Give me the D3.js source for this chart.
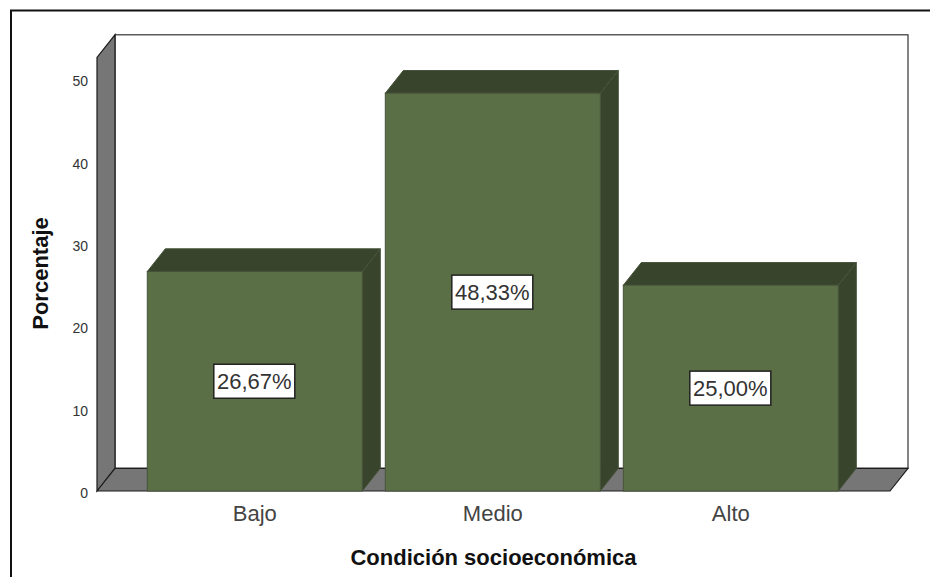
<!DOCTYPE html>
<html>
<head>
<meta charset="utf-8">
<script src="https://cdn.jsdelivr.net/npm/d3@7/dist/d3.min.js"></script>
<style>
  html, body { margin: 0; padding: 0; background: #fff; }
  svg { display: block; font-family: "Liberation Sans", Arial, sans-serif; }
</style>
</head>
<body>
<svg id="chart" width="930" height="577"></svg>
<script>
// Socioeconomic condition, percentage of respondents
const categories = ["Bajo", "Medio", "Alto"];
const percentages = [26.67, 48.33, 25.00];
const valueTicks = [0, 10, 20, 30, 40, 50];
const xTitle = "Condición socioeconómica";
const yTitle = "Porcentaje";

const svg = d3.select("#chart");

// Oblique offset of the 3D box
const depthX = 18, depthY = -22.7;

const x = d3.scaleBand().domain(categories).range([97, 888.6])
  .paddingInner(0.0966).paddingOuter(0.2113);
const y = d3.scaleLinear().domain([0, 50]).range([491, 79.5]);

const wallFill = "#767676", edge = "#1c1c1c";
const front = "#5b6f47", shade = "#39442c", barEdge = "#46533a";

const floorY = y(0), topY = 57.5;
const left = 97, right = 890;
const poly = pts => pts.map(p => p.join(",")).join(" ");

// Outer frame, open at the right and bottom
svg.append("path").attr("d", "M11,577V10.5H930")
  .attr("fill", "none").attr("stroke", "#111").attr("stroke-width", 2);

// Back wall
svg.append("rect")
  .attr("x", left + depthX).attr("y", topY + depthY)
  .attr("width", right - left).attr("height", floorY - topY)
  .attr("fill", "#fff").attr("stroke", "#333").attr("stroke-width", 1.2);

// Side wall
svg.append("polygon")
  .attr("points", poly([[left, floorY], [left, topY], [left + depthX, topY + depthY], [left + depthX, floorY + depthY]]))
  .attr("fill", wallFill).attr("stroke", edge).attr("stroke-width", 1.2);

// Floor
svg.append("polygon")
  .attr("points", poly([[left, floorY], [left + depthX, floorY + depthY], [right + depthX, floorY + depthY], [right, floorY]]))
  .attr("fill", wallFill).attr("stroke", edge).attr("stroke-width", 1.2);

// Bars: top, side and front faces
const bars = svg.append("g").selectAll("g")
  .data(categories.map((c, i) => ({ c, v: percentages[i] })))
  .join("g");

bars.append("polygon")
  .attr("points", d => {
    const a = x(d.c), b = a + x.bandwidth(), t = y(d.v);
    return poly([[a, t], [a + depthX, t + depthY], [b + depthX, t + depthY], [b, t]]);
  })
  .attr("fill", shade).attr("stroke", barEdge);

bars.append("polygon")
  .attr("points", d => {
    const b = x(d.c) + x.bandwidth(), t = y(d.v);
    return poly([[b, t], [b + depthX, t + depthY], [b + depthX, floorY + depthY], [b, floorY]]);
  })
  .attr("fill", shade).attr("stroke", barEdge);

bars.append("rect")
  .attr("x", d => x(d.c)).attr("y", d => y(d.v))
  .attr("width", x.bandwidth()).attr("height", d => floorY - y(d.v))
  .attr("fill", front).attr("stroke", barEdge);

// Value labels on white boxes at the middle of each bar
const fmt = v => v.toFixed(2).replace(".", ",") + "%";
const labels = bars.append("g")
  .attr("transform", d => `translate(${x(d.c) + x.bandwidth() / 2 - 0.5},${(y(d.v) + floorY) / 2})`);
labels.append("rect")
  .attr("x", -40.5).attr("y", -17).attr("width", 81).attr("height", 34)
  .attr("fill", "#fff").attr("stroke", "#222").attr("stroke-width", 1.5);
labels.append("text")
  .attr("text-anchor", "middle").attr("dy", "0.36em")
  .attr("font-size", 22).attr("fill", "#333")
  .text(d => fmt(d.v));

// Axes
const yAxis = svg.append("g").attr("transform", `translate(${left},2)`)
  .call(d3.axisLeft(y).tickValues(valueTicks).tickSize(0).tickPadding(9));
yAxis.select(".domain").remove();
yAxis.selectAll("text").attr("font-size", 14).attr("fill", "#333")
  .attr("font-family", "Liberation Sans");

const xAxis = svg.append("g").attr("transform", `translate(0,${floorY})`)
  .call(d3.axisBottom(x).tickSize(0).tickPadding(14.4));
xAxis.select(".domain").remove();
xAxis.selectAll("text").attr("font-size", 22).attr("fill", "#444")
  .attr("font-family", "Liberation Sans");

// Axis titles
svg.append("text").attr("x", 493.5).attr("y", 565)
  .attr("text-anchor", "middle").attr("font-size", 22).attr("font-weight", "bold")
  .attr("fill", "#111").text(xTitle);
svg.append("text").attr("transform", "translate(48,273.5) rotate(-90)")
  .attr("text-anchor", "middle").attr("font-size", 22).attr("font-weight", "bold")
  .attr("fill", "#111").text(yTitle);
</script>
</body>
</html>
